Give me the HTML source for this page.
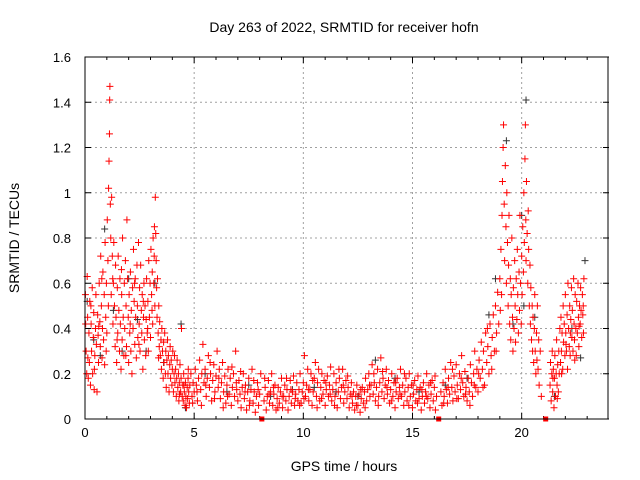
<!DOCTYPE html>
<html><head><meta charset="utf-8"><style>
html,body{margin:0;padding:0;background:#fff;}
svg{display:block;font-family:"Liberation Sans",sans-serif;}
</style></head><body>
<svg id="chart" width="640" height="480" viewBox="0 0 640 480">
<rect width="640" height="480" fill="#fff"/>
<text x="344" y="32" font-size="14" text-anchor="middle">Day 263 of 2022, SRMTID for receiver hofn</text>
<text x="344" y="471" font-size="14" text-anchor="middle">GPS time / hours</text>
<text transform="translate(19,238) rotate(-90)" font-size="14" text-anchor="middle">SRMTID / TECUs</text>
<g id="grid"></g>
<g id="ticks"></g>
<g id="grey"></g>
<g id="red"></g>
<g id="marks"></g>
<rect x="85" y="57" width="523" height="362" fill="none" stroke="#000" stroke-width="1"/>
</svg>
<script>
const xTicks=[0,5,10,15,20];
const yTicks=[0,0.2,0.4,0.6,0.8,1,1.2,1.4,1.6];
const yTickLabels=["0","0.2","0.4","0.6","0.8","1","1.2","1.4","1.6"];
const gapMarkers=[8.1,16.2,21.1];
const redPoints=[
[0.02,0.55],[0.05,0.3],[0.08,0.2],[0.1,0.63],[0.12,0.45],[0.15,0.18],[0.18,0.38],[0.2,0.25],[0.22,0.52],[0.25,0.15],[0.28,0.42],[0.3,0.3],[0.33,0.58],[0.35,0.2],[0.38,0.36],[0.4,0.47],[0.42,0.13],[0.45,0.28],[0.48,0.4],[0.5,0.55],
[0.52,0.33],[0.55,0.12],[0.58,0.46],[0.6,0.37],[0.62,0.25],[0.65,0.6],[0.68,0.43],[0.7,0.32],[0.72,0.72],[0.75,0.5],[0.78,0.27],[0.8,0.4],[0.82,0.65],[0.85,0.35],[0.88,0.55],[0.9,0.24],[0.92,0.78],[0.95,0.45],[0.98,0.6],[1.0,0.38],
[1.02,0.88],[1.05,0.7],[1.08,1.02],[1.1,1.14],[1.12,1.26],[1.13,1.41],[1.14,1.47],[1.16,0.95],[1.18,0.8],[1.2,0.55],[1.22,0.98],[1.25,0.72],[1.28,0.42],[1.3,0.6],[1.32,0.78],[1.35,0.5],[1.38,0.32],[1.4,0.68],[1.42,0.45],[1.45,0.25],
[1.48,0.58],[1.5,0.38],[1.52,0.72],[1.55,0.48],[1.58,0.3],[1.6,0.62],[1.62,0.42],[1.65,0.22],[1.68,0.55],[1.7,0.35],[1.72,0.8],[1.75,0.45],[1.78,0.28],[1.8,0.6],[1.82,0.4],[1.85,0.7],[1.88,0.5],[1.9,0.32],[1.92,0.88],[1.95,0.62],
[1.98,0.45],[2.0,0.25],[2.02,0.55],[2.05,0.38],[2.08,0.65],[2.1,0.3],[2.12,0.48],[2.15,0.2],[2.18,0.58],[2.2,0.4],[2.22,0.75],[2.25,0.52],[2.28,0.33],[2.3,0.62],[2.32,0.45],[2.35,0.27],[2.38,0.68],[2.4,0.5],[2.42,0.36],[2.45,0.78],
[2.48,0.42],[2.5,0.58],[2.52,0.3],[2.55,0.68],[2.58,0.48],[2.6,0.38],[2.62,0.55],[2.65,0.22],[2.68,0.45],[2.7,0.6],[2.72,0.35],[2.75,0.5],[2.78,0.28],[2.8,0.44],[2.82,0.62],[2.85,0.38],[2.88,0.52],[2.9,0.3],[2.92,0.7],[2.95,0.45],
[2.98,0.6],[3.0,0.36],[3.02,0.75],[3.05,0.55],[3.08,0.65],[3.1,0.42],[3.12,0.8],[3.15,0.6],[3.18,0.85],[3.2,0.5],[3.22,0.98],[3.24,0.82],[3.26,0.7],[3.28,0.58],[3.3,0.45],[3.32,0.62],[3.35,0.38],[3.38,0.5],[3.4,0.32],[3.42,0.43],
[3.45,0.28],[3.48,0.35],[3.5,0.22],[3.52,0.4],[3.55,0.3],[3.58,0.18],[3.6,0.34],[3.62,0.25],[3.65,0.38],[3.68,0.2],[3.7,0.3],[3.72,0.14],[3.75,0.26],[3.78,0.35],[3.8,0.2],[3.82,0.28],[3.85,0.12],[3.88,0.24],[3.9,0.32],[3.92,0.18],
[3.95,0.26],[3.98,0.15],[4.0,0.22],[4.02,0.3],[4.05,0.12],[4.08,0.2],[4.1,0.28],[4.12,0.16],[4.15,0.22],[4.18,0.1],[4.2,0.18],[4.22,0.26],[4.25,0.14],[4.28,0.2],[4.3,0.08],[4.32,0.16],[4.35,0.24],[4.38,0.12],[4.4,0.18],[4.42,0.4],
[4.45,0.1],[4.48,0.15],[4.5,0.08],[4.52,0.2],[4.55,0.12],[4.58,0.06],[4.6,0.16],[4.62,0.1],[4.65,0.05],[4.68,0.14],[4.7,0.09],[4.72,0.18],[4.75,0.12],[4.78,0.07],[4.8,0.15],[4.85,0.2],[4.9,0.1],[4.95,0.16],[5.0,0.12],[5.05,0.22],
[5.1,0.15],[5.15,0.08],[5.2,0.18],[5.25,0.26],[5.3,0.13],[5.35,0.2],[5.4,0.33],[5.45,0.16],[5.5,0.22],[5.55,0.1],[5.6,0.18],[5.65,0.28],[5.7,0.14],[5.75,0.2],[5.8,0.08],[5.85,0.17],[5.9,0.24],[5.95,0.12],[6.0,0.19],[6.05,0.3],
[6.1,0.14],[6.15,0.22],[6.2,0.09],[6.25,0.16],[6.3,0.25],[6.35,0.12],[6.4,0.19],[6.45,0.07],[6.5,0.15],[6.55,0.22],[6.6,0.11],[6.65,0.18],[6.7,0.06],[6.75,0.14],[6.8,0.2],[6.85,0.1],[6.9,0.3],[6.95,0.13],[7.0,0.08],[7.05,0.17],
[7.1,0.11],[7.15,0.05],[7.2,0.14],[7.25,0.2],[7.3,0.09],[7.35,0.15],[7.4,0.04],[7.45,0.12],[7.5,0.18],[7.55,0.08],[7.6,0.13],[7.65,0.22],[7.7,0.07],[7.75,0.12],[7.8,0.03],[7.85,0.1],[7.9,0.16],[7.95,0.06],[8.0,0.11],[8.05,0.2],
[8.2,0.08],[8.25,0.14],[8.3,0.04],[8.35,0.1],[8.4,0.17],[8.45,0.07],[8.5,0.12],[8.55,0.2],[8.6,0.06],[8.65,0.11],[8.7,0.15],[8.75,0.04],[8.8,0.09],[8.85,0.14],[8.9,0.07],[8.95,0.12],[9.0,0.18],[9.05,0.05],[9.1,0.1],[9.15,0.15],
[9.2,0.08],[9.25,0.13],[9.3,0.04],[9.35,0.1],[9.4,0.17],[9.45,0.07],[9.5,0.12],[9.55,0.19],[9.6,0.06],[9.65,0.11],[9.7,0.16],[9.75,0.08],[9.8,0.13],[9.85,0.2],[9.9,0.07],[9.95,0.12],[10.0,0.16],[10.05,0.28],[10.1,0.1],[10.15,0.15],
[10.2,0.22],[10.25,0.08],[10.3,0.13],[10.35,0.2],[10.4,0.06],[10.45,0.12],[10.5,0.18],[10.55,0.25],[10.6,0.1],[10.65,0.16],[10.7,0.22],[10.75,0.08],[10.8,0.14],[10.85,0.2],[10.9,0.11],[10.95,0.17],[11.0,0.06],[11.05,0.13],[11.1,0.19],[11.15,0.1],
[11.2,0.15],[11.25,0.23],[11.3,0.08],[11.35,0.13],[11.4,0.2],[11.45,0.1],[11.5,0.16],[11.55,0.05],[11.6,0.12],[11.65,0.18],[11.7,0.09],[11.75,0.14],[11.8,0.22],[11.85,0.07],[11.9,0.12],[11.95,0.17],[12.0,0.09],[12.05,0.14],[12.1,0.05],[12.15,0.11],
[12.2,0.16],[12.25,0.07],[12.3,0.12],[12.35,0.04],[12.4,0.1],[12.45,0.15],[12.5,0.06],[12.55,0.11],[12.6,0.03],[12.65,0.09],[12.7,0.14],[12.75,0.07],[12.8,0.12],[12.85,0.18],[12.9,0.08],[12.95,0.13],[13.0,0.2],[13.05,0.1],[13.1,0.15],[13.15,0.24],
[13.2,0.11],[13.25,0.16],[13.3,0.08],[13.35,0.14],[13.4,0.22],[13.45,0.1],[13.5,0.16],[13.55,0.27],[13.6,0.12],[13.65,0.18],[13.7,0.09],[13.75,0.15],[13.8,0.22],[13.85,0.11],[13.9,0.17],[13.95,0.07],[14.0,0.13],[14.05,0.2],[14.1,0.1],[14.15,0.16],
[14.2,0.05],[14.25,0.12],[14.3,0.18],[14.35,0.09],[14.4,0.14],[14.45,0.22],[14.5,0.1],[14.55,0.15],[14.6,0.06],[14.65,0.12],[14.7,0.18],[14.75,0.08],[14.8,0.14],[14.85,0.2],[14.9,0.1],[14.95,0.15],[15.0,0.05],[15.05,0.11],[15.1,0.17],[15.15,0.08],
[15.2,0.13],[15.25,0.19],[15.3,0.09],[15.35,0.14],[15.4,0.04],[15.45,0.1],[15.5,0.16],[15.55,0.07],[15.6,0.12],[15.65,0.2],[15.7,0.09],[15.75,0.15],[15.8,0.05],[15.85,0.11],[15.9,0.17],[15.95,0.08],[16.0,0.14],[16.05,0.04],[16.1,0.1],[16.3,0.12],
[16.35,0.06],[16.4,0.16],[16.45,0.1],[16.5,0.22],[16.55,0.13],[16.6,0.07],[16.65,0.18],[16.7,0.11],[16.75,0.25],[16.8,0.14],[16.85,0.08],[16.9,0.19],[16.95,0.12],[17.0,0.24],[17.05,0.15],[17.1,0.09],[17.15,0.2],[17.2,0.13],[17.25,0.28],[17.3,0.16],
[17.35,0.1],[17.4,0.21],[17.45,0.14],[17.5,0.08],[17.55,0.18],[17.6,0.12],[17.65,0.24],[17.7,0.16],[17.75,0.1],[17.8,0.2],[17.85,0.3],[17.9,0.14],[17.95,0.22],[18.0,0.12],[18.05,0.26],[18.1,0.18],[18.15,0.34],[18.2,0.22],[18.25,0.3],[18.3,0.15],
[18.35,0.38],[18.4,0.25],[18.45,0.32],[18.5,0.2],[18.55,0.42],[18.6,0.28],[18.65,0.36],[18.7,0.46],[18.75,0.3],[18.8,0.5],[18.85,0.38],[18.9,0.56],[18.95,0.42],[19.0,0.62],[19.02,0.48],[19.05,0.75],[19.08,0.55],[19.1,0.9],[19.12,1.05],[19.15,1.2],
[19.17,1.3],[19.2,0.95],[19.22,0.7],[19.25,1.12],[19.28,0.85],[19.3,0.6],[19.32,1.0],[19.35,0.78],[19.38,0.5],[19.4,0.68],[19.42,0.9],[19.45,0.42],[19.48,0.62],[19.5,0.35],[19.52,0.55],[19.55,0.8],[19.58,0.45],[19.6,0.3],[19.62,0.58],[19.65,0.4],
[19.68,0.7],[19.7,0.5],[19.72,0.34],[19.75,0.62],[19.78,0.44],[19.8,0.75],[19.82,0.55],[19.85,0.38],[19.88,0.65],[19.9,0.48],[19.92,0.9],[19.95,0.6],[19.98,0.42],[20.0,0.72],[20.02,0.55],[20.05,0.85],[20.08,0.65],[20.1,1.0],[20.12,0.78],[20.15,1.15],
[20.17,1.3],[20.19,0.88],[20.2,0.7],[20.22,1.05],[20.25,0.82],[20.28,0.6],[20.3,0.92],[20.32,0.75],[20.35,0.5],[20.38,0.68],[20.4,0.42],[20.42,0.58],[20.45,0.35],[20.48,0.5],[20.5,0.3],[20.52,0.45],[20.55,0.25],[20.58,0.4],[20.6,0.55],[20.62,0.3],
[20.65,0.2],[20.68,0.38],[20.7,0.26],[20.72,0.5],[20.75,0.22],[20.78,0.35],[20.8,0.15],[20.85,0.3],[20.9,0.1],[21.3,0.15],[21.32,0.25],[21.35,0.08],[21.38,0.2],[21.4,0.3],[21.42,0.12],[21.45,0.22],[21.48,0.05],[21.5,0.18],[21.52,0.28],[21.55,0.1],
[21.58,0.2],[21.6,0.35],[21.62,0.15],[21.65,0.24],[21.68,0.12],[21.7,0.3],[21.72,0.2],[21.75,0.4],[21.78,0.25],[21.8,0.45],[21.82,0.3],[21.85,0.38],[21.88,0.22],[21.9,0.5],[21.92,0.34],[21.95,0.42],[21.98,0.28],[22.0,0.55],[22.02,0.38],[22.05,0.3],
[22.08,0.46],[22.1,0.22],[22.12,0.6],[22.15,0.4],[22.18,0.32],[22.2,0.5],[22.22,0.28],[22.25,0.44],[22.28,0.58],[22.3,0.36],[22.32,0.48],[22.35,0.3],[22.38,0.62],[22.4,0.42],[22.42,0.35],[22.45,0.55],[22.48,0.4],[22.5,0.28],[22.52,0.52],[22.55,0.38],
[22.58,0.6],[22.6,0.45],[22.62,0.32],[22.65,0.5],[22.68,0.42],[22.7,0.58],[22.72,0.48],[22.75,0.36],[22.78,0.55],[22.8,0.46],[22.82,0.5],[22.85,0.62]
];
const redPointsExtra=[
[0.03,0.42],[0.13,0.27],[0.27,0.5],[0.43,0.22],[0.63,0.41],[0.77,0.62],[0.97,0.3],[1.07,0.5],[1.27,0.62],[1.47,0.35],[1.67,0.66],[1.87,0.28],[2.07,0.42],[2.27,0.6],[2.47,0.33],[2.67,0.52],[2.87,0.4],[3.07,0.48],[3.17,0.72],[3.37,0.27],
[4.33,0.11],[4.53,0.15],[4.73,0.22],[4.93,0.07],[5.13,0.12],[5.33,0.06],[5.53,0.15],[5.73,0.25],[5.93,0.09],[6.13,0.18],[6.33,0.05],[6.53,0.1],[6.73,0.23],[6.93,0.16],[7.13,0.21],[7.33,0.12],[7.53,0.06],[7.73,0.17],[7.93,0.13],[8.23,0.18],
[8.43,0.11],[8.63,0.14],[8.83,0.05],[9.03,0.1],[9.23,0.18],[9.43,0.13],[9.63,0.09],[9.83,0.06],[10.03,0.09],[10.23,0.13],[10.43,0.17],[10.63,0.05],[10.83,0.09],[11.03,0.16],[11.23,0.11],[11.43,0.06],[11.63,0.22],[11.83,0.15],[12.03,0.19],[12.23,0.1],
[12.43,0.06],[12.63,0.13],[12.83,0.05],[13.03,0.15],[13.23,0.2],[13.43,0.06],[13.63,0.21],[13.83,0.14],[14.03,0.08],[14.23,0.16],[14.43,0.11],[14.63,0.2],[14.83,0.06],[15.03,0.15],[15.23,0.07],[15.43,0.13],[15.63,0.1],[15.83,0.16],[16.03,0.19],[16.43,0.07],
[16.63,0.14],[16.83,0.22],[17.03,0.09],[17.23,0.18],[17.43,0.11],[17.63,0.06],[17.83,0.15],[18.03,0.2],[18.23,0.14],[18.43,0.4],[18.63,0.22],[18.83,0.3],[21.43,0.18],[21.63,0.09],[21.83,0.2],[22.03,0.33],[22.23,0.38],[22.43,0.26],[22.63,0.41],[22.83,0.38]
];
const greyPoints=[
[0.1,0.52],[0.4,0.35],[0.7,0.28],[0.9,0.84],[1.3,0.48],[1.7,0.3],[2.0,0.62],[2.4,0.44],[2.8,0.3],[3.2,0.6],[3.6,0.25],[4.4,0.42],[4.6,0.05],[5.5,0.2],[6.5,0.12],[7.5,0.15],[8.5,0.1],[9.5,0.13],[10.5,0.14],[11.5,0.12],
[12.5,0.1],[13.3,0.26],[14.2,0.18],[15.3,0.12],[16.5,0.15],[17.5,0.18],[18.5,0.46],[18.8,0.62],[19.3,1.23],[19.6,0.42],[20.0,0.9],[20.1,0.5],[20.2,1.41],[20.6,0.45],[21.5,0.1],[22.3,0.4],[22.7,0.27],[22.9,0.7]
];
const X0=85,X1=609,XMAX=24,Y0=419,Y1=57,YMAX=1.6;
function xs(h){return X0+(h/XMAX)*(X1-X0);}
function ys(v){return Y0-(v/YMAX)*(Y0-Y1);}
const NS="http://www.w3.org/2000/svg";
function mk(tag,attrs,parent){const e=document.createElementNS(NS,tag);for(const k in attrs)e.setAttribute(k,attrs[k]);parent.appendChild(e);return e;}
const grid=document.getElementById('grid'),ticks=document.getElementById('ticks');
xTicks.forEach(t=>{const x=xs(t);
 if(t>0){const g=mk('line',{x1:x,x2:x,y1:Y1,y2:Y0,stroke:'#a0a0a0','stroke-dasharray':'2,3'},grid);
 
 }
 mk('line',{x1:x,x2:x,y1:Y0,y2:Y0-6,stroke:'#000'},ticks);mk('line',{x1:x,x2:x,y1:Y1,y2:Y1+6,stroke:'#000'},ticks);
 const l=mk('text',{x:x,y:Y0+18,'font-size':13,'text-anchor':'middle'},ticks);l.textContent=String(t);
 
 
});
[1,2,3,4,6,7,8,9,11,12,13,14,16,17,18,19,21,22,23].forEach(t=>{const x=xs(t);mk('line',{x1:x,x2:x,y1:Y0,y2:Y0-3,stroke:'#000'},ticks);mk('line',{x1:x,x2:x,y1:Y1,y2:Y1+3,stroke:'#000'},ticks);});
yTicks.forEach((t,i)=>{const y=ys(t);
 if(t>0&&t<YMAX){const g=mk('line',{x1:X0,x2:X1,y1:y,y2:y,stroke:'#a0a0a0','stroke-dasharray':'2,3'},grid);
 
 }
 mk('line',{x1:X0,x2:X0+6,y1:y,y2:y,stroke:'#000'},ticks);mk('line',{x1:X1-6,x2:X1,y1:y,y2:y,stroke:'#000'},ticks);
 const l=mk('text',{x:X0-14,y:y+5,'font-size':13,'text-anchor':'end'},ticks);l.textContent=yTickLabels[i];
 
 
});
function drawPts(pts,gid,color,name){const g=document.getElementById(gid);let d='';
 pts.forEach(p=>{const x=xs(p[0]),y=ys(p[1]);d+=`M${x-3.5},${y}h7M${x},${y-3.5}v7`;});
 const p=mk('path',{d:d,stroke:color,'stroke-width':1,fill:'none'},g);
 
 
}
drawPts(greyPoints,'grey','#333','grey-points');
drawPts(redPoints,'red','#ff0000','red-points');
drawPts(redPointsExtra,'red','#ff0000','red-points-extra');
const mg=document.getElementById('marks');
gapMarkers.forEach(h=>{const r=mk('rect',{x:xs(h)-2.5,y:Y0-2.5,width:5,height:5,fill:'#ff0000'},mg);
 
 
});
</script>
</body></html>
